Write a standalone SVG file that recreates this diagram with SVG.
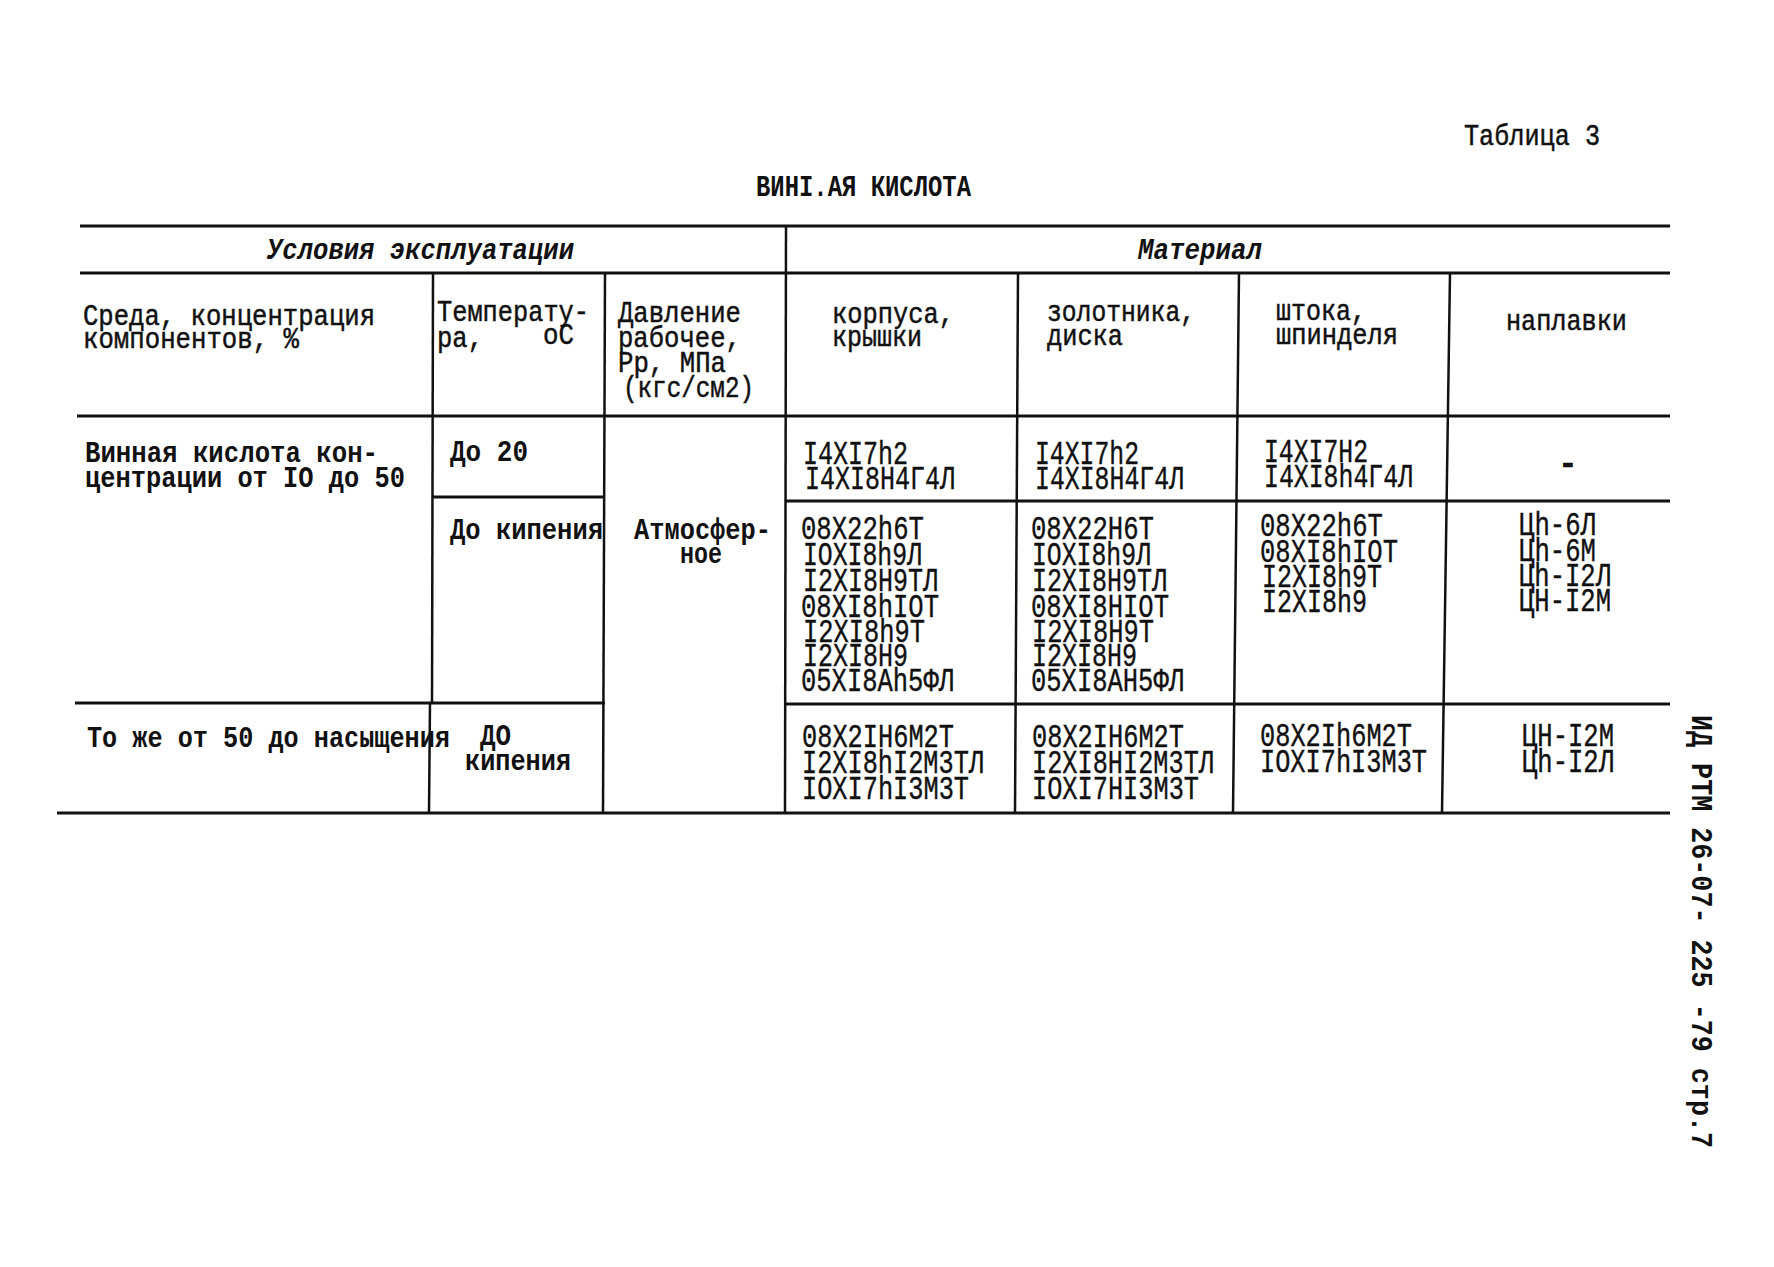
<svg xmlns="http://www.w3.org/2000/svg" width="1774" height="1267" viewBox="0 0 1774 1267">
<style>
.t{font-family:"Liberation Mono","DejaVu Sans Mono",monospace;fill:#111}
.h{font-size:29px;stroke:#111;stroke-width:0.5}
.b{font-size:29px;font-weight:bold}
.i{font-size:29px;font-style:italic;font-weight:bold}
.m{font-size:33px;stroke:#111;stroke-width:0.4}
.ln{stroke:#111;stroke-width:3;fill:none;stroke-linecap:butt}
.lv{stroke:#111;stroke-width:2.5;fill:none}
</style>
<rect width="1774" height="1267" fill="#fff"/>

<g id="page-title">
<text class="t h" x="1464" y="145" textLength="136" lengthAdjust="spacingAndGlyphs">Таблица 3</text>
<text class="t b" x="756" y="196" textLength="215" lengthAdjust="spacingAndGlyphs">ВИНІ.АЯ КИСЛОТА</text>
</g>

<g id="connectors">
<line class="ln" x1="80" y1="226" x2="1670" y2="226"/>
<line class="ln" x1="80" y1="273" x2="1670" y2="273"/>
<line class="ln" x1="77" y1="416" x2="1670" y2="416"/>
<line class="ln" x1="433" y1="497" x2="605" y2="497"/>
<line class="ln" x1="786" y1="501" x2="1670" y2="501"/>
<line class="ln" x1="75" y1="703" x2="605" y2="703"/>
<line class="ln" x1="786" y1="704" x2="1670" y2="704"/>
<line class="ln" x1="57" y1="813" x2="1670" y2="813"/>
<line class="lv" x1="786" y1="226" x2="785" y2="813"/>
<line class="lv" x1="433" y1="273" x2="432" y2="703"/>
<line class="lv" x1="430" y1="703" x2="429" y2="813"/>
<line class="lv" x1="605" y1="273" x2="603" y2="813"/>
<line class="lv" x1="1018" y1="273" x2="1015" y2="813"/>
<line class="lv" x1="1239" y1="273" x2="1233" y2="813"/>
<line class="lv" x1="1450" y1="273" x2="1442" y2="813"/>
</g>

<g id="group-header">
<text class="t i" x="267" y="259" textLength="307" lengthAdjust="spacingAndGlyphs">Условия эксплуатации</text>
<text class="t i" x="1138" y="259" textLength="124" lengthAdjust="spacingAndGlyphs">Материал</text>
</g>

<g id="col-medium">
<text class="t h"><tspan x="83" y="325" textLength="292" lengthAdjust="spacingAndGlyphs">Среда, концентрация</tspan><tspan x="83" y="348" textLength="216" lengthAdjust="spacingAndGlyphs">компонентов, %</tspan></text>
</g>
<g id="col-temp">
<text class="t h"><tspan x="437" y="321" textLength="152" lengthAdjust="spacingAndGlyphs">Температу-</tspan><tspan x="437" y="347" textLength="46" lengthAdjust="spacingAndGlyphs">ра,</tspan><tspan x="543" y="344" textLength="31" lengthAdjust="spacingAndGlyphs">оС</tspan></text>
</g>
<g id="col-pressure">
<text class="t h"><tspan x="618" y="322" textLength="123" lengthAdjust="spacingAndGlyphs">Давление</tspan><tspan x="618" y="347" textLength="123" lengthAdjust="spacingAndGlyphs">рабочее,</tspan><tspan x="618" y="372" textLength="108" lengthAdjust="spacingAndGlyphs">Рр, МПа</tspan><tspan x="623" y="397" textLength="131" lengthAdjust="spacingAndGlyphs">(кгс/см2)</tspan></text>
</g>
<g id="col-body">
<text class="t h"><tspan x="832" y="323" textLength="122" lengthAdjust="spacingAndGlyphs">корпуса,</tspan><tspan x="832" y="346" textLength="90" lengthAdjust="spacingAndGlyphs">крышки</tspan></text>
</g>
<g id="col-disc">
<text class="t h"><tspan x="1047" y="321" textLength="148" lengthAdjust="spacingAndGlyphs">золотника,</tspan><tspan x="1047" y="345" textLength="76" lengthAdjust="spacingAndGlyphs">диска</tspan></text>
</g>
<g id="col-stem">
<text class="t h"><tspan x="1276" y="320" textLength="90" lengthAdjust="spacingAndGlyphs">штока,</tspan><tspan x="1276" y="344" textLength="122" lengthAdjust="spacingAndGlyphs">шпинделя</tspan></text>
</g>
<g id="col-surfacing">
<text class="t h" x="1506" y="330" textLength="121" lengthAdjust="spacingAndGlyphs">наплавки</text>
</g>

<g id="row1">
<text class="t b"><tspan x="85" y="462" textLength="293" lengthAdjust="spacingAndGlyphs">Винная кислота кон-</tspan><tspan x="85" y="487" textLength="320" lengthAdjust="spacingAndGlyphs">центрации от IO до 50</tspan></text>
<text class="t b" x="450" y="461" textLength="78" lengthAdjust="spacingAndGlyphs">До 20</text>
<text class="t m"><tspan x="803" y="464" textLength="105" lengthAdjust="spacingAndGlyphs">I4XI7h2</tspan><tspan x="805" y="489" textLength="150" lengthAdjust="spacingAndGlyphs">I4XI8H4Г4Л</tspan></text>
<text class="t m"><tspan x="1035" y="464" textLength="104" lengthAdjust="spacingAndGlyphs">I4XI7h2</tspan><tspan x="1035" y="489" textLength="149" lengthAdjust="spacingAndGlyphs">I4XI8H4Г4Л</tspan></text>
<text class="t m"><tspan x="1264" y="462" textLength="104" lengthAdjust="spacingAndGlyphs">I4XI7H2</tspan><tspan x="1264" y="487" textLength="149" lengthAdjust="spacingAndGlyphs">I4XI8h4Г4Л</tspan></text>
<text class="t m" x="1568" y="474" text-anchor="middle" font-weight="bold">-</text>
</g>

<g id="row2">
<text class="t b" x="450" y="539" textLength="153" lengthAdjust="spacingAndGlyphs">До кипения</text>
<text class="t b"><tspan x="634" y="539" textLength="137" lengthAdjust="spacingAndGlyphs">Атмосфер-</tspan><tspan x="680" y="563" textLength="42" lengthAdjust="spacingAndGlyphs">ное</tspan></text>
<text class="t m"><tspan x="801" y="539" textLength="123" lengthAdjust="spacingAndGlyphs">08X22h6T</tspan><tspan x="803" y="565" textLength="119" lengthAdjust="spacingAndGlyphs">IOXI8h9Л</tspan><tspan x="803" y="591" textLength="135" lengthAdjust="spacingAndGlyphs">I2XI8H9TЛ</tspan><tspan x="801" y="617" textLength="138" lengthAdjust="spacingAndGlyphs">08XI8hIOT</tspan><tspan x="803" y="642" textLength="122" lengthAdjust="spacingAndGlyphs">I2XI8h9T</tspan><tspan x="803" y="666" textLength="105" lengthAdjust="spacingAndGlyphs">I2XI8H9</tspan><tspan x="801" y="691" textLength="153" lengthAdjust="spacingAndGlyphs">05XI8Ah5ФЛ</tspan></text>
<text class="t m"><tspan x="1031" y="539" textLength="123" lengthAdjust="spacingAndGlyphs">08X22H6T</tspan><tspan x="1032" y="565" textLength="119" lengthAdjust="spacingAndGlyphs">IOXI8h9Л</tspan><tspan x="1032" y="591" textLength="135" lengthAdjust="spacingAndGlyphs">I2XI8H9TЛ</tspan><tspan x="1031" y="617" textLength="138" lengthAdjust="spacingAndGlyphs">08XI8HIOT</tspan><tspan x="1032" y="642" textLength="122" lengthAdjust="spacingAndGlyphs">I2XI8H9T</tspan><tspan x="1032" y="666" textLength="105" lengthAdjust="spacingAndGlyphs">I2XI8H9</tspan><tspan x="1031" y="691" textLength="153" lengthAdjust="spacingAndGlyphs">05XI8AH5ФЛ</tspan></text>
<text class="t m"><tspan x="1260" y="536" textLength="123" lengthAdjust="spacingAndGlyphs">08X22h6T</tspan><tspan x="1260" y="562" textLength="138" lengthAdjust="spacingAndGlyphs">08XI8hIOT</tspan><tspan x="1262" y="587" textLength="120" lengthAdjust="spacingAndGlyphs">I2XI8h9T</tspan><tspan x="1262" y="612" textLength="105" lengthAdjust="spacingAndGlyphs">I2XI8h9</tspan></text>
<text class="t m"><tspan x="1519" y="535" textLength="77" lengthAdjust="spacingAndGlyphs">Цh-6Л</tspan><tspan x="1519" y="561" textLength="77" lengthAdjust="spacingAndGlyphs">Цh-6М</tspan><tspan x="1519" y="586" textLength="92" lengthAdjust="spacingAndGlyphs">Цh-I2Л</tspan><tspan x="1519" y="611" textLength="92" lengthAdjust="spacingAndGlyphs">ЦН-I2М</tspan></text>
</g>

<g id="row3">
<text class="t b" x="87" y="747" textLength="363" lengthAdjust="spacingAndGlyphs">То же от 50 до насыщения</text>
<text class="t b"><tspan x="480" y="745" textLength="31" lengthAdjust="spacingAndGlyphs">ДО</tspan><tspan x="465" y="770" textLength="106" lengthAdjust="spacingAndGlyphs">кипения</tspan></text>
<text class="t m"><tspan x="802" y="747" textLength="152" lengthAdjust="spacingAndGlyphs">08X2IH6M2T</tspan><tspan x="802" y="773" textLength="182" lengthAdjust="spacingAndGlyphs">I2XI8hI2M3TЛ</tspan><tspan x="802" y="799" textLength="167" lengthAdjust="spacingAndGlyphs">IOXI7hI3M3T</tspan></text>
<text class="t m"><tspan x="1032" y="747" textLength="152" lengthAdjust="spacingAndGlyphs">08X2IH6M2T</tspan><tspan x="1032" y="773" textLength="182" lengthAdjust="spacingAndGlyphs">I2XI8HI2M3TЛ</tspan><tspan x="1032" y="799" textLength="167" lengthAdjust="spacingAndGlyphs">IOXI7HI3M3T</tspan></text>
<text class="t m"><tspan x="1260" y="746" textLength="152" lengthAdjust="spacingAndGlyphs">08X2Ih6M2T</tspan><tspan x="1260" y="772" textLength="167" lengthAdjust="spacingAndGlyphs">IOXI7hI3M3T</tspan></text>
<text class="t m"><tspan x="1522" y="746" textLength="92" lengthAdjust="spacingAndGlyphs">ЦН-I2М</tspan><tspan x="1522" y="772" textLength="92" lengthAdjust="spacingAndGlyphs">Цh-I2Л</tspan></text>
</g>

<g id="side-stamp">
<text class="t b" x="0" y="0" transform="translate(1692,715) rotate(90)" textLength="433" lengthAdjust="spacingAndGlyphs">ИД РТМ 26-07- 225 -79 стр.7</text>
</g>
</svg>
